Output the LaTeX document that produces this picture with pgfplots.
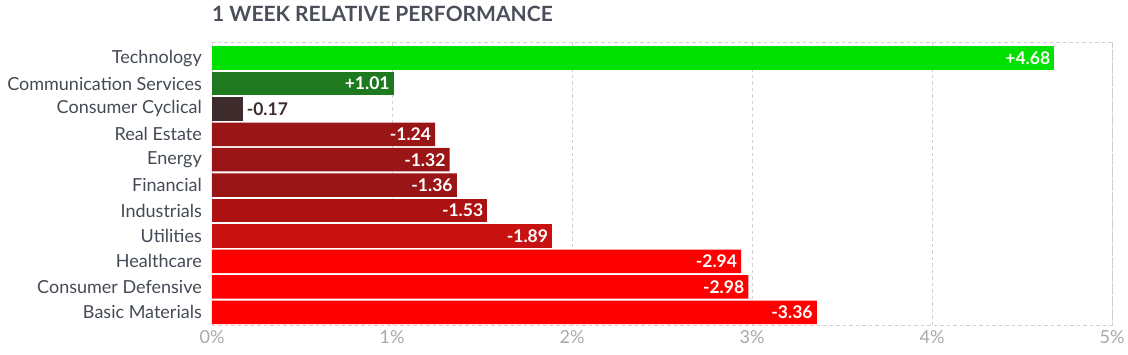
\documentclass[border=0pt]{standalone}
\usepackage{pgfplots}
\pgfplotsset{compat=1.18}
\usepackage{fontspec}
\setmainfont{Lato}
\definecolor{cTech}{HTML}{00E100}
\definecolor{cComm}{HTML}{1F7A1F}
\definecolor{cCyc}{HTML}{3E2C2C}
\definecolor{cDark}{HTML}{9A1616}
\definecolor{cInd}{HTML}{AD1212}
\definecolor{cUtil}{HTML}{C81212}
\definecolor{cRed}{HTML}{FF0000}
\definecolor{cTitle}{HTML}{4A4F5A}
\definecolor{cLab}{HTML}{444A55}
\definecolor{cTick}{HTML}{A8A8A8}
\definecolor{cGrid}{HTML}{D0D0D0}
\begin{document}
\begin{tikzpicture}
\useasboundingbox (-212pt,-30pt) rectangle (916pt,325pt);
\begin{axis}[
  at={(0,0)}, anchor=south west,
  width=900pt, height=282.7pt, scale only axis,
  xbar, bar width=23.5pt, bar shift=0pt,
  xmin=0, xmax=5, ymin=-0.62, ymax=10.5, y dir=reverse,
  axis line style={draw=none},
  major tick length=0pt,
  xtick={0,1,2,3,4,5},
  xticklabels={0\%,1\%,2\%,3\%,4\%,5\%},
  ytick={0,...,10},
  yticklabels={Technology,Communication Services,Consumer Cyclical,Real Estate,Energy,Financial,Industrials,Utilities,Healthcare,Consumer Defensive,Basic Materials},
  yticklabel style={font=\fontsize{18}{21}\selectfont, text=cLab, inner sep=0pt, xshift=-10pt},
  xticklabel style={font=\fontsize{18}{21}\selectfont, text=cTick, inner sep=0pt, yshift=-5pt},
  xmajorgrids, major grid style={draw=cGrid, dash pattern=on 3.5pt off 3pt, line width=0.8pt},
  point meta=explicit symbolic,
  nodes near coords,
  every node near coord/.append style={anchor=east, xshift=-4pt, text=white, font=\bfseries\fontsize{17.5}{20}\selectfont, inner sep=0pt},
  clip=false,
]
\addplot[fill=cTech, draw=none] coordinates {(4.68,0) [+4.68]};
\addplot[fill=cComm, draw=none] coordinates {(1.01,1) [+1.01]};
\addplot[fill=cCyc, draw=none, every node near coord/.append style={anchor=west, xshift=8pt, text=cCyc}] coordinates {(0.17,2) [-0.17]};
\addplot[fill=cDark, draw=none] coordinates {(1.24,3) [-1.24] (1.32,4) [-1.32] (1.36,5) [-1.36]};
\addplot[fill=cInd, draw=none] coordinates {(1.53,6) [-1.53]};
\addplot[fill=cUtil, draw=none] coordinates {(1.89,7) [-1.89]};
\addplot[fill=cRed, draw=none] coordinates {(2.94,8) [-2.94] (2.98,9) [-2.98] (3.36,10) [-3.36]};
\draw[cGrid, dash pattern=on 3.5pt off 3pt, line width=0.8pt] (rel axis cs:0,0) -- (rel axis cs:1,0) -- (rel axis cs:1,1) -- (rel axis cs:0,1);
\node[anchor=base west, inner sep=0pt, text=cTitle, font=\bfseries\fontsize{21}{24}\selectfont] at ([yshift=20.5pt]rel axis cs:0,1) {1 WEEK RELATIVE PERFORMANCE};
\end{axis}
\end{tikzpicture}
\end{document}
